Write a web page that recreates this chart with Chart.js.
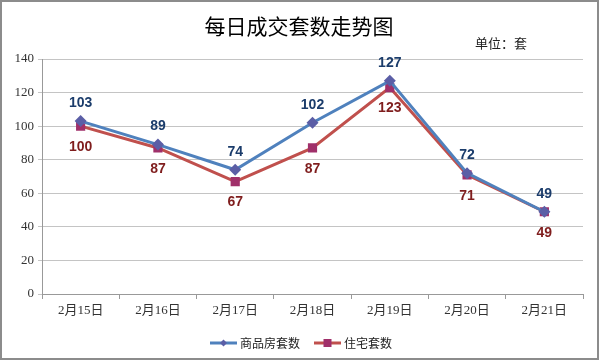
<!DOCTYPE html>
<html>
<head>
<meta charset="utf-8">
<script src="https://cdn.jsdelivr.net/npm/chart.js@4/dist/chart.umd.min.js"></script>
<style>
  html, body { margin: 0; padding: 0; background: #fff; }
  #wrap { width: 600px; height: 362px; position: relative; }
</style>
</head>
<body>
<div id="wrap"><canvas id="myChart" width="600" height="362"></canvas></div>
<script>
// 每日成交套数走势图

const categories = ['2月15日', '2月16日', '2月17日', '2月18日', '2月19日', '2月20日', '2月21日'];
const commercialUnits = [103, 89, 74, 102, 127, 72, 49];   // 商品房套数
const residentialUnits = [100, 87, 67, 87, 123, 71, 49];   // 住宅套数
const yTicks = [0, 20, 40, 60, 80, 100, 120, 140];

const CJK = '"Noto Sans CJK SC", "Noto Sans", sans-serif';

// draws title, unit, frame, value labels and the legend (line + marker)
const decorPlugin = {
    id: 'decor',
    afterDatasetsDraw(chart) {
        const ctx = chart.ctx;
        ctx.save();
        ctx.font = 'bold 14px "Liberation Sans", Arial, sans-serif';
        ctx.textAlign = 'center';
        ctx.textBaseline = 'middle';
        chart.data.datasets.forEach((ds, i) => {
            const meta = chart.getDatasetMeta(i);
            ctx.fillStyle = ds.labelColor;
            meta.data.forEach((pt, j) => {
                const dy = i === 0 ? -18 : 21;
                ctx.fillText(String(ds.data[j]), pt.x, pt.y + dy);
            });
        });
        ctx.restore();
    },
    afterDraw(chart) {
        const ctx = chart.ctx;
        ctx.save();

        // title
        ctx.fillStyle = '#000';
        ctx.font = '21px ' + CJK;
        ctx.textAlign = 'center';
        ctx.textBaseline = 'middle';
        ctx.fillText('每日成交套数走势图', 299, 26);

        ctx.font = '13px ' + CJK;
        ctx.fillStyle = '#222';
        ctx.textAlign = 'left';
        ctx.fillText('单位：套', 475, 43);

        // legend
        const items = [
            { text: '商品房套数', x: 210, ds: chart.data.datasets[0], style: 'diamond' },
            { text: '住宅套数', x: 314, ds: chart.data.datasets[1], style: 'square' }
        ];
        const ly = 343;
        ctx.font = '12px ' + CJK;
        items.forEach(it => {
            ctx.strokeStyle = it.ds.borderColor;
            ctx.lineWidth = 3;
            ctx.beginPath();
            ctx.moveTo(it.x, ly);
            ctx.lineTo(it.x + 27, ly);
            ctx.stroke();
            ctx.fillStyle = it.ds.pointBackgroundColor;
            const cx = it.x + 13.5;
            if (it.style === 'diamond') {
                ctx.beginPath();
                ctx.moveTo(cx, ly - 3.5);
                ctx.lineTo(cx + 3.5, ly);
                ctx.lineTo(cx, ly + 3.5);
                ctx.lineTo(cx - 3.5, ly);
                ctx.closePath();
                ctx.fill();
            } else {
                ctx.fillRect(cx - 4, ly - 4, 8, 8);
            }
            ctx.fillStyle = '#222';
            ctx.fillText(it.text, it.x + 30, ly);
        });

        // outer frame
        ctx.strokeStyle = '#8c8c8c';
        ctx.lineWidth = 2;
        ctx.strokeRect(1, 1, 597, 358);
        ctx.restore();
    }
};

function renderChart() {
    const ctx = document.getElementById('myChart').getContext('2d');

    new Chart(ctx, {
        type: 'line',
        data: {
            labels: categories,
            datasets: [{
                label: '商品房套数',
                data: commercialUnits,
                borderColor: '#4F81BD',
                borderWidth: 3,
                pointStyle: 'rectRot',
                pointRadius: 6,
                pointHoverRadius: 6,
                pointBackgroundColor: '#5B5EA6',
                pointBorderColor: '#5B5EA6',
                pointBorderWidth: 0,
                labelColor: '#1B3C6B',
                tension: 0
            }, {
                label: '住宅套数',
                data: residentialUnits,
                borderColor: '#C0504D',
                borderWidth: 3,
                pointStyle: 'rect',
                pointRadius: 6.5,
                pointHoverRadius: 6.5,
                pointBackgroundColor: '#A0306A',
                pointBorderColor: '#A0306A',
                pointBorderWidth: 0,
                labelColor: '#7F1D1D',
                tension: 0
            }]
        },
        options: {
            responsive: false,
            animation: false,
            layout: { padding: { top: 59, right: 17, bottom: 0, left: 0 } },
            plugins: {
                legend: { display: false },
                title: { display: false },
                tooltip: { enabled: false }
            },
            scales: {
                x: {
                    offset: true,
                    afterFit(scale) { scale.height = 68; },
                    grid: {
                        offset: true,
                        drawOnChartArea: false,
                        drawTicks: true,
                        tickLength: 5,
                        color: '#999'
                    },
                    border: { color: '#999', width: 1 },
                    ticks: {
                        color: '#333',
                        padding: 4,
                        maxRotation: 0,
                        font: { family: '"Liberation Serif", "Noto Sans CJK SC", serif', size: 13 }
                    }
                },
                y: {
                    min: 0,
                    max: 140,
                    afterFit(scale) { scale.width = 42; },
                    afterBuildTicks(scale) { scale.ticks = yTicks.map(v => ({ value: v })); },
                    grid: {
                        color: '#c4c4c4',
                        tickLength: 4,
                        lineWidth: 1
                    },
                    border: { color: '#999', width: 1 },
                    ticks: {
                        color: '#333',
                        padding: 4,
                        font: { family: '"Liberation Serif", serif', size: 13 }
                    }
                }
            }
        },
        plugins: [decorPlugin]
    });
}

renderChart();
</script>
</body>
</html>
